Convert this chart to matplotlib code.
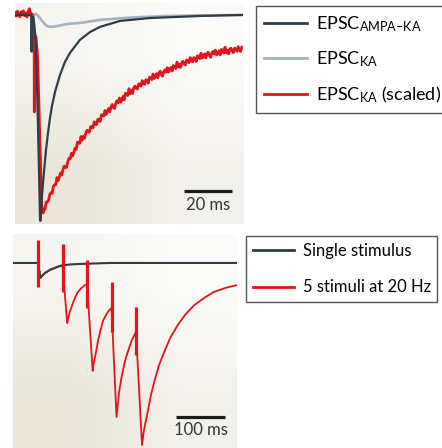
import numpy as np
import matplotlib
matplotlib.use('Agg')
from matplotlib import pyplot as plt

# Fonts: Lato for labels, also for the subscripts in the legend
plt.rcParams['font.family'] = ['Lato', 'DejaVu Sans']
plt.rcParams['mathtext.fontset'] = 'custom'
plt.rcParams['mathtext.rm'] = 'Lato'
plt.rcParams['mathtext.it'] = 'Lato:italic'
plt.rcParams['mathtext.bf'] = 'Lato:bold'

DARK = '#2e3d47'
GRAY = '#a4b4be'
RED = '#e2141c'
BAR = '#1c1c1c'

# ---- top panel: single EPSCs (time in ms, amplitude in % of AMPA-KA peak) ----
ampa_ka_t = [0, 6.67, 6.75, 6.92, 7.13, 7.58, 7.83, 8.63, 9.04, 9.71, 10.17, 10.42,
             10.55, 10.7, 11.25, 12.08, 12.92, 13.75, 14.58, 15.42, 16.67, 18.75,
             20.83, 22.92, 27.08, 31.25, 35.42, 43.75, 56.25, 77.08, 95]
ampa_ka_amp = [0, 0, -1.0, -17.8, -1.5, -1.0, -2.4, -12.1, -28.2, -60.7, -85.0, -98.5,
               -100, -98.5, -87.4, -76.2, -65.5, -57.3, -50.0, -44.2, -37.4, -29.1,
               -22.8, -18.4, -12.1, -8.3, -5.8, -2.9, -1.5, -0.5, 0]

ka_t = [0, 7.5, 8.75, 9.71, 11.25, 13.2, 14.58, 16.67, 21.67, 27.08, 35.42, 49.17,
        63.33, 77.08, 95]
ka_amp = [0, 0, 0.5, -0.5, -2.9, -5.3, -5.8, -5.6, -4.4, -3.9, -2.4, -1.2,
          -0.5, -0.2, 0]

# scaled KA current: noisy baseline, stimulus artefact and onset
ka_scaled_head_t = [0, 0.5, 1.0, 1.5, 2.0, 2.5, 3.0, 3.5, 4.0, 4.5, 5.0, 5.5, 6.0, 6.5, 7.0,
                    7.5, 8.0, 8.05, 8.1, 8.7, 9.46, 10.29, 11.13, 11.67]
ka_scaled_head_amp = [1.2, -0.6, 1.8, 0.1, -0.9, 1.5, 0.4, 2.0, -0.3, 1.0, -1.0, 1.6, 3.0, 0.8, 0.5,
                      -0.5, -19.4, -47.1, -19.4, -10.5, -20.9, -58.3, -92.2, -96.1]
# decay phase, sampled every 0.5 ms from 12 ms
ka_scaled_start, ka_scaled_dt = 12.0, 0.5
ka_scaled_decay = [
    -94.6, -94.3, -90.9, -90.8, -90.0, -87.1, -86.3, -86.6, -83.1, -82.5,
    -82.4, -79.0, -80.4, -78.7, -76.7, -77.7, -75.0, -73.4, -74.1, -74.0,
    -71.2, -69.6, -69.9, -67.2, -68.5, -66.9, -64.7, -65.3, -61.8, -62.2,
    -62.3, -59.0, -60.8, -58.9, -59.9, -57.2, -56.0, -56.7, -56.9, -54.3,
    -54.2, -54.8, -51.9, -53.0, -53.2, -50.7, -50.6, -51.7, -48.5, -48.5,
    -49.1, -46.4, -48.3, -46.9, -45.4, -47.0, -44.7, -43.5, -44.8, -45.4,
    -42.9, -41.7, -42.7, -40.3, -42.4, -41.3, -39.6, -41.2, -38.0, -38.7,
    -39.1, -35.8, -38.2, -36.5, -38.1, -35.4, -34.5, -35.5, -36.0, -33.5,
    -33.6, -34.6, -31.9, -33.2, -33.7, -31.5, -31.7, -33.1, -30.3, -30.4,
    -31.4, -28.7, -30.8, -30.0, -28.5, -30.5, -28.4, -27.3, -28.9, -29.7,
    -27.4, -26.6, -27.8, -25.6, -27.7, -26.8, -25.5, -27.2, -24.5, -25.1,
    -26.0, -22.9, -25.3, -24.0, -25.5, -23.1, -22.5, -23.7, -24.3, -21.9,
    -22.2, -23.2, -20.7, -22.3, -22.8, -20.7, -21.1, -22.6, -19.8, -20.2,
    -21.2, -18.6, -21.0, -20.1, -18.9, -20.9, -18.9, -18.1, -19.7, -20.6,
    -18.5, -17.7, -19.0, -17.1, -19.4, -18.7, -17.4, -19.4, -16.7, -17.7,
    -18.5, -15.7, -18.4, -17.1, -18.9, -16.7, -16.1, -17.4, -18.3, -16.1,
    -16.5, -17.7, -15.4, -16.9, -17.7, -15.7]

top_labels = [r'EPSC$_{\mathrm{AMPA–KA}}$', r'EPSC$_{\mathrm{KA}}$',
              r'EPSC$_{\mathrm{KA}}$ (scaled)']
top_bar_ms = 20

# ---- bottom panel: single stimulus vs train (time from first stimulus, ms) ----
single_t = [-51, 0, 5.1, 8.2, 14.3, 24.5, 34.7, 44.9, 65.3, 91.8, 147, 407.5]
single_amp = [0, 0, -8.2, -7.1, -5.5, -3.8, -2.7, -1.6, -0.8, -0.5, 0, 0]

train_t = [-51, 0, 5.1, 8.2, 14.3, 24.5, 34.7, 44.9, 50,
           59.6, 62, 65, 69.8, 75, 80, 87, 93.5, 100,
           111.6, 114, 118.4, 123, 128.6, 133, 138.8, 144, 150,
           160.2, 163, 165.5, 170, 175.7, 180, 185.9, 192, 200,
           212.2, 216, 223.9, 230, 237.3, 247, 257.8, 270, 285.1, 300, 319, 340,
           359.8, 385, 407.5]
train_amp = [0, 0, -8.2, -7.1, -5.5, -3.8, -2.7, -1.6, -1.4,
             -33.0, -30.0, -26.8, -23.1, -19.4, -16.5, -14.2, -12.6, -11.5,
             -59.3, -54.5, -48.9, -42.0, -35.7, -31.5, -28.6, -26.3, -24.7,
             -84.6, -77.5, -70.7, -63.5, -56.0, -51.5, -46.7, -42.0, -37.9,
             -100, -92.0, -81.7, -73.0, -65.2, -56.0, -48.7, -41.0, -34.1, -28.5, -23.1, -19.0,
             -15.8, -13.5, -12.1]

# stimulus artefacts of the 20 Hz train
stim_t = [0, 50, 100, 150, 200]
stim_top = [12.6, 10.4, 1.6, -10.4, -24.2]
stim_bottom = [-13.2, -15.9, -24.7, -37.9, -50.5]

bottom_labels = ['Single stimulus', '5 stimuli at 20 Hz']
bottom_bar_ms = 100


def paint_background(ax):
    # warm cream in the lower left fading to near white at the upper right
    shade = np.array([[[0.965, 0.961, 0.945], [0.988, 0.988, 0.980]],
                      [[0.918, 0.902, 0.855], [0.955, 0.947, 0.927]]])
    x0, x1 = ax.get_xlim()
    y0, y1 = ax.get_ylim()
    ax.imshow(shade, extent=(x0, x1, y0, y1), aspect='auto',
              interpolation='bilinear', zorder=0)
    ax.set_xlim(x0, x1)
    ax.set_ylim(y0, y1)
    ax.axis('off')


def style_legend(leg):
    leg.get_frame().set_linewidth(1.0)
    for h in leg.get_lines():
        h.set_linewidth(2.0)


fig = plt.figure(figsize=(4.42, 4.48), dpi=100)

# top panel
ax1 = fig.add_axes([15 / 442, 1 - 224 / 448, 228 / 442, 221 / 448])
ax1.set_xlim(0, 95)
ax1.set_ylim(-101.5, 5.8)
paint_background(ax1)

ka_scaled_t = list(ka_scaled_head_t) + list(ka_scaled_start + ka_scaled_dt * np.arange(len(ka_scaled_decay)))
ka_scaled_amp = list(ka_scaled_head_amp) + ka_scaled_decay

l_ka, = ax1.plot(ka_t, ka_amp, color=GRAY, lw=1.9, zorder=2)
l_scaled, = ax1.plot(ka_scaled_t, ka_scaled_amp, color=RED, lw=2.0, zorder=3)
l_ampa, = ax1.plot(ampa_ka_t, ampa_ka_amp, color=DARK, lw=1.6, zorder=4)

bar_x0 = 70.4
ax1.plot([bar_x0, bar_x0 + top_bar_ms], [-85.4, -85.4], color=BAR, lw=2.3,
         solid_capstyle='butt', zorder=5)
ax1.text(bar_x0 + top_bar_ms / 2, -94.7, f'{top_bar_ms} ms', ha='center',
         va='baseline', fontsize=12, color='#333333', zorder=5)

leg1 = ax1.legend([l_ampa, l_ka, l_scaled], top_labels, loc='upper left',
                  bbox_to_anchor=(256 / 442, 1 - 6 / 448), bbox_transform=fig.transFigure,
                  borderaxespad=0, fontsize=13, frameon=True, fancybox=False, framealpha=1,
                  edgecolor='#555555', facecolor='white', handlelength=2.4,
                  handletextpad=0.45, labelspacing=0.85, borderpad=0.45)
style_legend(leg1)

# bottom panel
ax2 = fig.add_axes([13 / 442, 0, 224 / 442, 214 / 448])
ax2.set_xlim(-51, 406)
ax2.set_ylim(-101.6, 15.9)
paint_background(ax2)

l_train, = ax2.plot(train_t, train_amp, color=RED, lw=1.3, zorder=2)
l_single, = ax2.plot(single_t, single_amp, color=DARK, lw=1.5, zorder=3)
ax2.vlines(stim_t, stim_bottom, stim_top, color=RED, lw=2.3, zorder=4)

bar_x0 = 281.7
ax2.plot([bar_x0, bar_x0 + bottom_bar_ms], [-84.6, -84.6], color=BAR, lw=2.3,
         solid_capstyle='butt', zorder=5)
ax2.text(bar_x0 + bottom_bar_ms / 2, -94.5, f'{bottom_bar_ms} ms', ha='center',
         va='baseline', fontsize=12, color='#333333', zorder=5)

leg2 = ax2.legend([l_single, l_train], bottom_labels, loc='upper left',
                  bbox_to_anchor=(246 / 442, 1 - 236 / 448), bbox_transform=fig.transFigure,
                  borderaxespad=0, fontsize=12, frameon=True, fancybox=False, framealpha=1,
                  edgecolor='#555555', facecolor='white', handlelength=2.5,
                  handletextpad=0.5, labelspacing=1.25, borderpad=0.4)
style_legend(leg2)

plt.savefig('out.png', dpi=100)
